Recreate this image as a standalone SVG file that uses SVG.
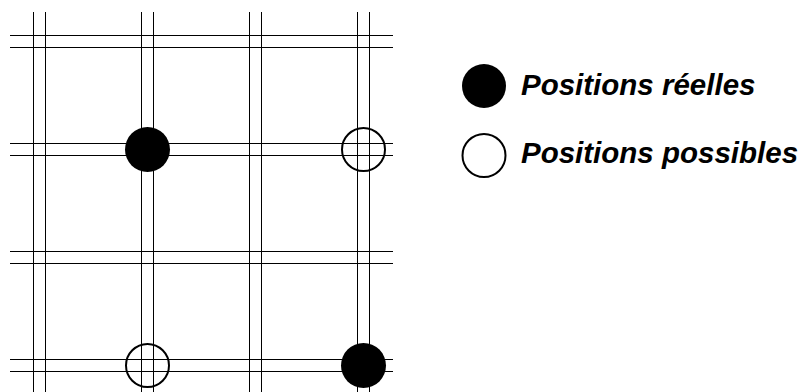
<svg xmlns="http://www.w3.org/2000/svg" width="806" height="392" viewBox="0 0 806 392">
<style>
.g line { stroke: #000; stroke-width: 1; }
.real { fill: #000; }
.poss { fill: none; stroke: #000; stroke-width: 2; }
.lbl { font-family: "Liberation Sans", Arial, sans-serif; font-weight: bold; font-style: italic; font-size: 29.5px; fill: #000; }
</style>
<rect width="806" height="392" fill="#fff"/>
<g id="grid" class="g">
<line x1="33.5" y1="12" x2="33.5" y2="392"/>
<line x1="45.5" y1="12" x2="45.5" y2="392"/>
<line x1="141.5" y1="12" x2="141.5" y2="392"/>
<line x1="153.5" y1="12" x2="153.5" y2="392"/>
<line x1="249.5" y1="12" x2="249.5" y2="392"/>
<line x1="261.5" y1="12" x2="261.5" y2="392"/>
<line x1="357.5" y1="12" x2="357.5" y2="392"/>
<line x1="369.5" y1="12" x2="369.5" y2="392"/>
<line x1="10" y1="35.5" x2="393" y2="35.5"/>
<line x1="10" y1="47.5" x2="393" y2="47.5"/>
<line x1="10" y1="143.5" x2="393" y2="143.5"/>
<line x1="10" y1="155.5" x2="393" y2="155.5"/>
<line x1="10" y1="251.5" x2="393" y2="251.5"/>
<line x1="10" y1="263.5" x2="393" y2="263.5"/>
<line x1="10" y1="359.5" x2="393" y2="359.5"/>
<line x1="10" y1="371.5" x2="393" y2="371.5"/>
</g>
<g id="p1"><circle class="real" cx="147.5" cy="149.5" r="22.5"/></g>
<g id="p2"><circle class="poss" cx="363.5" cy="149.5" r="21.5"/></g>
<g id="p3"><circle class="poss" cx="147.5" cy="365.5" r="21.5"/></g>
<g id="p4"><circle class="real" cx="363.5" cy="365.5" r="22.5"/></g>
<g id="legend-real">
<circle class="real" cx="484" cy="86" r="22"/>
<text class="lbl" x="521" y="95">Positions réelles</text>
</g>
<g id="legend-poss">
<circle class="poss" cx="484" cy="155.5" r="21.5"/>
<text class="lbl" x="521" y="163">Positions possibles</text>
</g>
</svg>
